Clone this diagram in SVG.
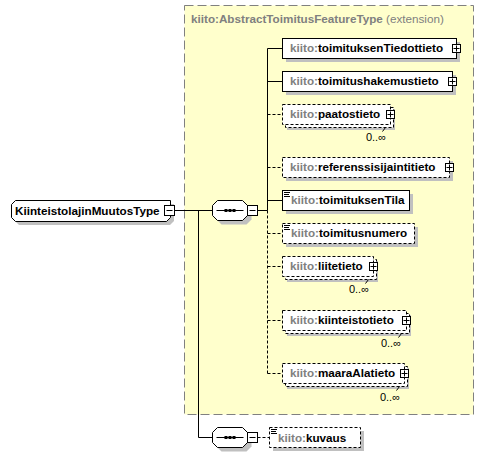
<svg xmlns="http://www.w3.org/2000/svg" width="488" height="457" viewBox="0 0 488 457">
<style>
text{font-family:"Liberation Sans",Arial,sans-serif;font-size:11.7px;font-weight:bold;fill:#000}
.ns{fill:#808080}
.reg{font-weight:normal}
.card{font-weight:normal;font-size:11px;text-anchor:end}
.box{fill:#fff;stroke:#000;stroke-width:1}
.opt{stroke-dasharray:3,2}
.sh{fill:#c0c0c0;stroke:none}
.ln{fill:none;stroke:#000;stroke-width:1}
.dl{stroke-dasharray:3,2}
.ic{fill:none;stroke:#000;stroke-width:1}
</style>
<defs>
<g id="plus"><rect x="-4" y="-4" width="8" height="8" fill="#fff" stroke="#000"/><path d="M-3 0H3M0 -3V3" stroke="#000"/></g>
<g id="minus"><rect x="-5" y="-5" width="10" height="10" fill="#fff" stroke="#000"/><path d="M-3 0H3" stroke="#000"/></g>
<g id="seq">
<polygon class="sh" points="9,4 34,4 39,9 39,19 34,24 9,24 4,19 4,9"/>
<polygon class="box" points="5,0 30,0 35,5 35,15 30,20 5,20 0,15 0,5"/>
<path d="M4 10H31" stroke="#000"/>
<rect x="12" y="8.5" width="3" height="3" fill="#000"/>
<rect x="16" y="8.5" width="3" height="3" fill="#000"/>
<rect x="20" y="8.5" width="3" height="3" fill="#000"/>
</g>
</defs>

<g id="extension">
<rect x="184.5" y="5.5" width="289" height="409" fill="#ffffcc" stroke="#808080" stroke-dasharray="9,4"/>
<text x="191" y="23" class="ns">kiito:AbstractToimitusFeatureType <tspan class="reg">(extension)</tspan></text>
</g>

<g id="connectors">
<path class="ln" d="M174.5 210.5H212.5"/>
<path class="ln" d="M198.5 210.5V437.5H212.5"/>
<path class="ln" d="M257.5 210.5H267.5"/>
<path class="ln" d="M267.5 48.5V210.5"/>
<path class="ln dl" d="M267.5 210.5V373.5"/>
<path class="ln" d="M267.5 48.5H282.5M267.5 81.5H282.5M267.5 200.5H282.5"/>
<path class="ln dl" d="M267.5 114.5H282.5M267.5 167.5H282.5M267.5 233.5H282.5M267.5 266.5H282.5M267.5 320.5H282.5M267.5 373.5H282.5"/>
<path class="ln dl" d="M257.5 437.5H269.5"/>
</g>

<g id="KiinteistolajinMuutosType">
<polygon class="sh" points="19,204 174,204 174,221 170,225 19,225 15,221 15,208"/>
<polygon class="box" points="15.5,200.5 170.5,200.5 170.5,217.5 166.5,221.5 15.5,221.5 11.5,217.5 11.5,204.5"/>
<text x="15" y="215">KiinteistolajinMuutosType</text>
<use href="#minus" x="169.5" y="210.5"/>
</g>

<g id="sequence1">
<use href="#seq" x="212.5" y="200.5"/>
<use href="#minus" x="252.5" y="210.5"/>
</g>

<g id="toimituksenTiedottieto">
<rect class="sh" x="286" y="42" width="174" height="20"/>
<rect class="box" x="282.5" y="38.5" width="174" height="20"/>
<text x="290" y="52"><tspan class="ns">kiito:</tspan>toimituksenTiedottieto</text>
<use href="#plus" x="456.5" y="48.5"/>
</g>

<g id="toimitushakemustieto">
<rect class="sh" x="286" y="75" width="170" height="20"/>
<rect class="box" x="282.5" y="71.5" width="170" height="20"/>
<text x="290" y="85"><tspan class="ns">kiito:</tspan>toimitushakemustieto</text>
<use href="#plus" x="452.5" y="81.5"/>
</g>

<g id="paatostieto">
<rect class="sh" x="287" y="109" width="108" height="21"/>
<rect class="box opt" x="285.5" y="107.5" width="108" height="20"/>
<rect class="box opt" x="282.5" y="104.5" width="108" height="20"/>
<text x="290" y="118"><tspan class="ns">kiito:</tspan>paatostieto</text>
<use href="#plus" x="390.5" y="114.5"/>
<path class="ln" d="M385.5 127.5L382.5 131.5"/>
<text class="card" x="386" y="141">0..∞</text>
</g>

<g id="referenssisijaintitieto">
<rect class="sh" x="286" y="161" width="167" height="20"/>
<rect class="box opt" x="282.5" y="157.5" width="167" height="20"/>
<text x="290" y="171"><tspan class="ns">kiito:</tspan>referenssisijaintitieto</text>
<use href="#plus" x="449.5" y="167.5"/>
</g>

<g id="toimituksenTila">
<rect class="sh" x="286" y="194" width="127" height="20"/>
<rect class="box" x="282.5" y="190.5" width="127" height="20"/>
<path class="ic" d="M284 192.5h6M284 194.5h5M284 196.5h6"/>
<text x="291" y="204"><tspan class="ns">kiito:</tspan>toimituksenTila</text>
</g>

<g id="toimitusnumero">
<rect class="sh" x="286" y="227" width="132" height="20"/>
<rect class="box opt" x="282.5" y="223.5" width="132" height="20"/>
<path class="ic" d="M284 225.5h6M284 227.5h5M284 229.5h6"/>
<text x="291" y="237"><tspan class="ns">kiito:</tspan>toimitusnumero</text>
</g>

<g id="liitetieto">
<rect class="sh" x="287" y="261" width="91" height="21"/>
<rect class="box opt" x="285.5" y="259.5" width="91" height="20"/>
<rect class="box opt" x="282.5" y="256.5" width="91" height="20"/>
<text x="290" y="270"><tspan class="ns">kiito:</tspan>liitetieto</text>
<use href="#plus" x="373.5" y="266.5"/>
<path class="ln" d="M368.5 279.5L365.5 283.5"/>
<text class="card" x="369" y="293">0..∞</text>
</g>

<g id="kiinteistotieto">
<rect class="sh" x="287" y="315" width="124" height="21"/>
<rect class="box opt" x="285.5" y="313.5" width="124" height="20"/>
<rect class="box opt" x="282.5" y="310.5" width="124" height="20"/>
<text x="290" y="324"><tspan class="ns">kiito:</tspan>kiinteistotieto</text>
<use href="#plus" x="406.5" y="320.5"/>
<path class="ln" d="M401.5 333.5L398.5 337.5"/>
<text class="card" x="401" y="347">0..∞</text>
</g>

<g id="maaraAlatieto">
<rect class="sh" x="287" y="368" width="122" height="21"/>
<rect class="box opt" x="285.5" y="366.5" width="122" height="20"/>
<rect class="box opt" x="282.5" y="363.5" width="122" height="20"/>
<text x="290" y="377"><tspan class="ns">kiito:</tspan>maaraAlatieto</text>
<use href="#plus" x="404.5" y="373.5"/>
<path class="ln" d="M399.5 386.5L396.5 390.5"/>
<text class="card" x="400" y="401">0..∞</text>
</g>

<g id="sequence2">
<use href="#seq" x="212.5" y="427.5"/>
<use href="#minus" x="252.5" y="437.5"/>
</g>

<g id="kuvaus">
<rect class="sh" x="273" y="431" width="91" height="20"/>
<rect class="box opt" x="269.5" y="427.5" width="91" height="20"/>
<path class="ic" d="M271 429.5h6M271 431.5h5M271 433.5h6"/>
<text x="278" y="442"><tspan class="ns">kiito:</tspan>kuvaus</text>
</g>
</svg>
